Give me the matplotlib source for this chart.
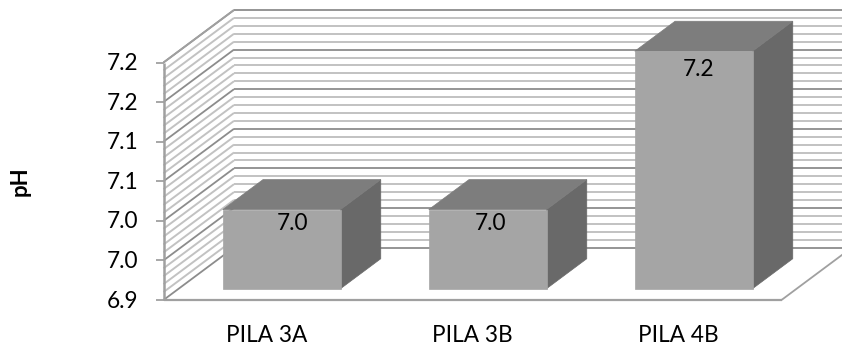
import matplotlib
matplotlib.use("Agg")
import matplotlib.pyplot as plt
from matplotlib.patches import Polygon

W, H = 842, 347

categories = ["PILA 3A", "PILA 3B", "PILA 4B"]
values = [7.0, 7.0, 7.2]
value_labels = ["7.0", "7.0", "7.2"]
major_ticks = [6.9, 6.95, 7.0, 7.05, 7.1, 7.15, 7.2]
tick_labels = ["6.9", "7.0", "7.0", "7.1", "7.1", "7.2", "7.2"]
minor_ticks = [6.9 + 0.01 * i for i in range(31)]

# hand placed value label offsets, px from the top front edge centre
label_dx = [11, 3, 5]
label_dy = [-14, -14, -18]

plt.rcParams["font.family"] = ["Lato", "DejaVu Sans"]

fig = plt.figure(figsize=(W / 100, H / 100), dpi=100)
# front plane of the 3d box, in pixels: x 163.5-781.5, y 62.5-300
ax = fig.add_axes([163.5 / W, 1 - 300 / H, 618 / W, 237.5 / H])
ax.set_xlim(0, 3)
ax.set_ylim(6.9, 7.2)
ax.axis("off")

# depth 0..1 shifts a point towards the back wall (70.5 px right, 52.5 px up)
DX = 70.5 / 618 * 3
DY = 52.5 / 237.5 * 0.3
GRID = "#8c8c8c"
GRID_LIGHT = "#c2c2c2"
EDGE = "#a0a0a0"


def pt(x, y, d=0.0):
    return (x + DX * d, y + DY * d)


def line(a, b, color=GRID, lw=1.3):
    ax.plot([a[0], b[0]], [a[1], b[1]], color=color, lw=lw, clip_on=False,
            solid_capstyle="butt", zorder=2)


# walls
for v in minor_ticks:
    major = any(abs(v - m) < 1e-6 for m in major_ticks)
    c = GRID if major else GRID_LIGHT
    lw = 1.3 if major else 1.4
    line(pt(0, v), pt(0, v, 1), c, lw)
    line(pt(0, v, 1), pt(3, v, 1), c, lw)

# floor + front edges
line(pt(0, 6.9), pt(3, 6.9), EDGE, 1.6)
line(pt(3, 6.9), pt(3, 6.9, 1), EDGE, 1.3)
line(pt(0, 6.9), pt(0, 7.2), EDGE, 1.8)
line(pt(0, 7.2), pt(0, 7.2, 1), EDGE, 1.3)

# ticks and labels
for v, lab in zip(major_ticks, tick_labels):
    line((0, v), (-8 / 206, v), EDGE, 1.3)
    ax.annotate(lab, xy=(0, v), xytext=(-25, -1), textcoords="offset pixels",
                ha="right", va="center", fontsize=16.3, color="black",
                annotation_clip=False)

ax.text(-0.697, 7.05, "pH", rotation=90, ha="center", va="center",
        fontsize=16, fontweight="bold", color="black")

# bars
BAR_W = 1 / 1.75
D0, D1 = 0.215, 0.786
for i, (cat, v, vl) in enumerate(zip(categories, values, value_labels)):
    x0 = i + 0.5 - BAR_W / 2
    x1 = i + 0.5 + BAR_W / 2
    front = [pt(x0, 6.9, D0), pt(x1, 6.9, D0), pt(x1, v, D0), pt(x0, v, D0)]
    top = [pt(x0, v, D0), pt(x1, v, D0), pt(x1, v, D1), pt(x0, v, D1)]
    side = [pt(x1, 6.9, D0), pt(x1, 6.9, D1), pt(x1, v, D1), pt(x1, v, D0)]
    ax.add_patch(Polygon(side, fc="#696969", ec="#696969", lw=0.5, zorder=3, clip_on=False))
    ax.add_patch(Polygon(top, fc="#7d7d7d", ec="#7d7d7d", lw=0.5, zorder=3, clip_on=False))
    ax.add_patch(Polygon(front, fc="#a5a5a5", ec="#a5a5a5", lw=0.5, zorder=4, clip_on=False))
    ax.annotate(vl, xy=pt(i + 0.5, v, D0), xytext=(label_dx[i], label_dy[i]),
                textcoords="offset pixels", ha="center", va="center",
                fontsize=16.3, color="black", zorder=5, annotation_clip=False)
    ax.annotate(cat, xy=(i + 0.5, 6.9), xytext=(0, -35), textcoords="offset pixels",
                ha="center", va="center", fontsize=16.3, color="black",
                annotation_clip=False)

fig.savefig("out.png", dpi=100, facecolor="white")
